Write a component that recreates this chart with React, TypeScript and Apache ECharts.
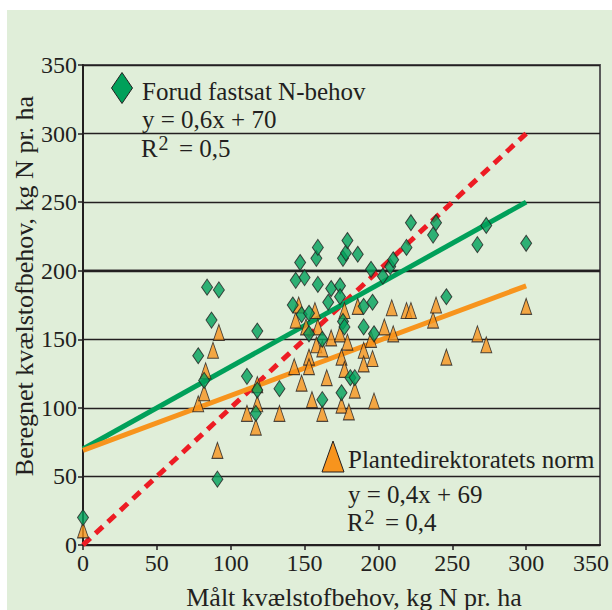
import React, { useEffect, useRef } from "react";
import * as echarts from "echarts";

// Forud fastsat N-behov (green diamonds)
const forudX = [0, 78, 82, 84, 87, 91, 92, 111, 117, 118, 118, 133, 142, 144, 147, 148, 150, 153, 153, 158, 159, 159, 162, 162, 166, 168, 174, 174, 175, 176, 176, 177, 178, 179, 181, 184, 186, 190, 190, 195, 196, 197, 203, 208, 210, 219, 222, 237, 239, 246, 267, 273, 300];
const forudY = [20, 138, 120, 188, 164, 48, 186, 123, 96, 113, 156, 114, 175, 193, 206, 168, 195, 169, 154, 209, 217, 190, 150, 106, 177, 187, 189, 181, 111, 163, 209, 159, 213, 222, 122, 122, 212, 174, 159, 201, 177, 154, 196, 203, 208, 217, 235, 226, 235, 181, 219, 233, 220];

// Plantedirektoratets norm (orange triangles)
const planteX = [0, 78, 82, 83, 88, 91, 92, 111, 117, 118, 118, 133, 143, 144, 146, 148, 151, 153, 153, 155, 157, 158, 159, 162, 162, 165, 168, 174, 175, 175, 177, 177, 179, 180, 184, 186, 190, 190, 195, 196, 197, 204, 209, 210, 219, 222, 237, 239, 246, 267, 273, 300];
const planteY = [11, 103, 111, 127, 142, 69, 155, 96, 86, 103, 117, 96, 130, 164, 175, 118, 159, 137, 130, 106, 171, 146, 159, 143, 96, 122, 151, 154, 137, 102, 171, 128, 148, 97, 113, 174, 142, 132, 150, 136, 105, 159, 173, 154, 171, 171, 164, 175, 137, 154, 146, 174];

// Trend lines
const fitX = [0, 300];
const forudFitY = [70, 250];
const planteFitY = [69, 189];
const identityY = [0, 300];

const xMaxLabel = "350";
const xTitle = "Målt kvælstofbehov, kg N pr. ha";
const yTitle = "Beregnet kvælstofbehov, kg N pr. ha";
const forudName = "Forud fastsat N-behov";
const forudEq = "y = 0,6x + 70";
const forudR2 = "= 0,5";
const planteName = "Plantedirektoratets norm";
const planteEq = "y = 0,4x + 69";
const planteR2 = "= 0,4";

const FONT = "Liberation Serif, Times New Roman, serif";
const INK = "#231f20";
const GREEN = "#00a05a";
const ORANGE = "#f7941d";
const RED = "#ed1c24";
const BG = "#e0eed9";

const zip = (xs: number[], ys: number[]) => xs.map((x, i) => [x, ys[i]]);

function txt(x: number, y: number, text: string, size: number, extra: any = {}) {
  return {
    type: "text",
    x,
    y,
    z: 100,
    ...extra,
    style: {
      text,
      fontSize: size,
      fontFamily: FONT,
      fill: INK,
      textAlign: "left",
      textVerticalAlign: "middle",
      ...(extra.style || {}),
    },
  };
}

export default function App() {
  const ref = useRef<HTMLDivElement>(null);
  useEffect(() => {
    if (!ref.current) return;
    const chart = echarts.init(ref.current, undefined, { renderer: "svg" });
    const axisCommon = {
      type: "value",
      min: 0,
      max: 350,
      interval: 50,
      axisLine: { show: true, onZero: false, lineStyle: { color: INK, width: 2 } },
      axisTick: { show: true, inside: false, length: 5, lineStyle: { color: INK, width: 1.5 } },
      axisLabel: { color: INK, fontFamily: FONT, fontSize: 24, margin: 6 },
    };
    chart.setOption({
      animation: false,
      backgroundColor: "transparent",
      textStyle: { fontFamily: FONT, color: INK },
      grid: {
        left: 83,
        right: 12,
        top: 65,
        bottom: 65,
        show: true,
        borderColor: "#5a5a5a",
        borderWidth: 2,
        backgroundColor: "transparent",
        containLabel: false,
        outerBoundsMode: "none",
      },
      xAxis: {
        ...axisCommon,
        axisLabel: { ...axisCommon.axisLabel, showMaxLabel: false },
        splitLine: { show: false },
      },
      yAxis: {
        ...axisCommon,
        splitLine: { show: true, lineStyle: { color: INK, width: 1.3 } },
      },
      series: [
        {
          type: "line",
          data: zip(fitX, identityY),
          showSymbol: false,
          symbol: "none",
          z: 3,
          lineStyle: { color: RED, width: 5, type: [10, 7] },
          markLine: {
            silent: true,
            symbol: "none",
            label: { show: false },
            lineStyle: { color: INK, width: 2.4, type: "solid" },
            data: [{ yAxis: 200 }],
            z: 1,
          },
        },
        {
          type: "line",
          data: zip(fitX, forudFitY),
          showSymbol: false,
          symbol: "none",
          z: 3,
          lineStyle: { color: GREEN, width: 5 },
        },
        {
          type: "line",
          data: zip(fitX, planteFitY),
          showSymbol: false,
          symbol: "none",
          z: 3,
          lineStyle: { color: ORANGE, width: 5 },
        },
        {
          type: "scatter",
          data: zip(planteX, planteY),
          symbol: "triangle",
          symbolSize: [11, 16],
          z: 4,
          itemStyle: { color: ORANGE, borderColor: INK, borderWidth: 1 },
        },
        {
          type: "scatter",
          data: zip(forudX, forudY),
          symbol: "diamond",
          symbolSize: [11, 16],
          z: 5,
          itemStyle: { color: GREEN, borderColor: INK, borderWidth: 1 },
        },
      ],
      graphic: [
        // legend 1
        {
          type: "polygon",
          z: 100,
          shape: { points: [[122, 72.5], [132.5, 88], [122, 103.5], [111.5, 88]] },
          style: { fill: GREEN, stroke: INK, lineWidth: 1 },
        },
        txt(142, 91.5, forudName, 25),
        txt(142, 119, forudEq, 25),
        txt(141, 148.3, "R", 25),
        txt(158.5, 142.5, "2", 20),
        txt(179, 148.3, forudR2, 25),
        // legend 2
        {
          type: "polygon",
          z: 100,
          shape: { points: [[333, 441], [344, 472], [322, 472]] },
          style: { fill: ORANGE, stroke: INK, lineWidth: 1 },
        },
        txt(348, 459, planteName, 25),
        txt(348, 494, planteEq, 25),
        txt(347, 522, "R", 25),
        txt(364.5, 516.5, "2", 20),
        txt(385, 522, planteR2, 25),
        // last x tick label, shifted inward as in the reference
        txt(591, 563, xMaxLabel, 24, { style: { textAlign: "center" } }),
        // axis titles
        txt(354, 597, xTitle, 26, { style: { textAlign: "center" } }),
        txt(24, 286, yTitle, 26, { rotation: Math.PI / 2, style: { textAlign: "center" } }),
      ],
    });
    return () => chart.dispose();
  }, []);

  return (
    <div style={{ position: "fixed", left: 0, top: 0, width: 612, height: 610, background: "#ffffff" }}>
      <div style={{ position: "absolute", left: 7, top: 10, width: 605, height: 600, background: BG }} />
      <div ref={ref} style={{ position: "absolute", left: 0, top: 0, width: 612, height: 610 }} />
    </div>
  );
}
